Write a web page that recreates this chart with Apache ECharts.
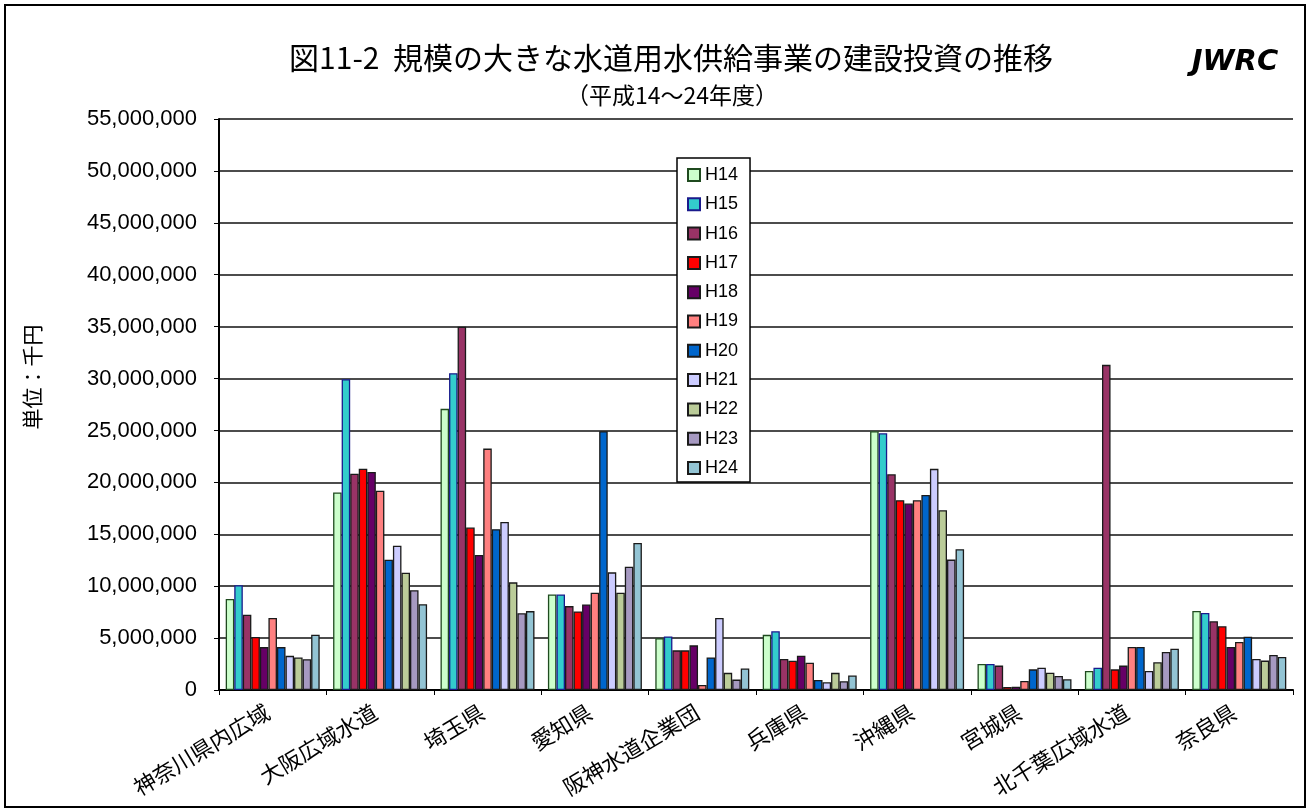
<!DOCTYPE html>
<html>
<head>
<meta charset="utf-8">
<script src="https://cdn.jsdelivr.net/npm/echarts@6/dist/echarts.min.js"></script>
<style>
html,body{margin:0;padding:0;background:#fff;}
#chart{width:1311px;height:812px;}
</style>
</head>
<body>
<div id="chart"></div>
<script>
const categories = ['神奈川県内広域','大阪広域水道','埼玉県','愛知県','阪神水道企業団','兵庫県','沖縄県','宮城県','北千葉広域水道','奈良県'];
const seriesNames = ['H14','H15','H16','H17','H18','H19','H20','H21','H22','H23','H24'];
const yTicks = [0,5000000,10000000,15000000,20000000,25000000,30000000,35000000,40000000,45000000,50000000,55000000];

const H14 = [8770000,19030000,27080000,9210000,4980000,5310000,24930000,2510000,1830000,7610000];
const H15 = [10100000,29940000,30520000,9210000,5150000,5660000,24730000,2510000,2150000,7420000];
const H16 = [7260000,20840000,35000000,8080000,3820000,2980000,20780000,2350000,31320000,6620000];
const H17 = [5100000,21320000,15650000,7570000,3820000,2820000,18280000,290000,1990000,6140000];
const H18 = [4130000,21000000,13000000,8240000,4300000,3300000,17960000,320000,2350000,4140000];
const H19 = [6940000,19190000,23250000,9370000,490000,2620000,18280000,870000,4140000,4630000];
const H20 = [4130000,12550000,15490000,24920000,3140000,970000,18790000,1990000,4140000,5140000];
const H21 = [3290000,13900000,16190000,11330000,6930000,740000,21300000,2150000,1830000,2990000];
const H22 = [3130000,11290000,10370000,9370000,1650000,1650000,17310000,1670000,2670000,2830000];
const H23 = [2970000,9610000,7400000,11880000,1000000,840000,12560000,1350000,3660000,3370000];
const H24 = [5320000,8260000,7600000,14170000,2070000,1390000,13560000,1030000,3980000,3180000];

const seriesData = [H14,H15,H16,H17,H18,H19,H20,H21,H22,H23,H24];
const fills = ['#CCFFCC','#33CCCC','#993366','#FF0000','#660066','#FF8080','#0066CC','#CCCCFF','#BBCC99','#A699C1','#93C4D4'];
const borders = ['#1F4A1F','#1A1A8C','#1a1a1a','#1a1a1a','#1a1a1a','#1a1a1a','#1a1a1a','#1a1a1a','#1a1a1a','#1a1a1a','#1a1a1a'];

const FONT = '"Noto Sans CJK JP", "Noto Sans", sans-serif';
const LAT = '"Liberation Sans", Arial, sans-serif';
const chart = echarts.init(document.getElementById('chart'));

const series = seriesNames.map((n,i)=>({
  name:n,
  type:'bar',
  data:seriesData[i],
  barGap:'0%',
  barCategoryGap:'12.5%',
  itemStyle:{color:fills[i],borderColor:borders[i],borderWidth:1.3},
  emphasis:{disabled:true},
  animation:false
}));

chart.setOption({
  animation:false,
  backgroundColor:'#fff',
  textStyle:{fontFamily:FONT},
  title:[
    {text:'図11-2  規模の大きな水道用水供給事業の建設投資の推移',left:666,top:38,textAlign:'center',
     textStyle:{fontFamily:FONT,fontSize:30,fontWeight:'normal',color:'#000'}},
    {text:'（平成14～24年度）',left:667,top:79,textAlign:'center',
     textStyle:{fontFamily:FONT,fontSize:23,fontWeight:'normal',color:'#000'}},
    {text:'JWRC',left:1230,top:43,textAlign:'center',
     textStyle:{fontFamily:'"DejaVu Sans", sans-serif',fontSize:29,fontWeight:'bold',fontStyle:'italic',color:'#000'}}
  ],
  graphic:[
    {type:'rect',shape:{x:5,y:5,width:1300,height:802},style:{fill:'none',stroke:'#000',lineWidth:2},silent:true,z:-1},
    {type:'text',x:32,y:377,rotation:Math.PI/2,
     style:{text:'単位：千円',font:'21px "Noto Sans CJK JP", sans-serif',fill:'#000',textAlign:'center',textVerticalAlign:'middle'},silent:true}
  ],
  legend:{
    orient:'vertical',
    left:677,top:158,
    data:seriesNames,
    backgroundColor:'#fff',
    borderColor:'#000',borderWidth:1.5,
    padding:[8,12,5,10],
    itemWidth:12,itemHeight:12,itemGap:11.3,
    icon:'rect',
    textStyle:{fontFamily:LAT,fontSize:18,color:'#000'},
    selectedMode:false
  },
  grid:{left:219,right:18,top:119,bottom:122,containLabel:false},
  xAxis:{
    type:'category',
    data:categories,
    axisLine:{lineStyle:{color:'#000',width:2}},
    axisTick:{show:true,alignWithLabel:false,length:5,lineStyle:{color:'#000'}},
    axisLabel:{rotate:31,interval:0,fontFamily:FONT,fontSize:22,color:'#000',margin:17,padding:[0,6,0,0]},
    splitLine:{show:false}
  },
  yAxis:{
    type:'value',
    min:0,max:55000000,interval:5000000,
    axisLine:{show:true,lineStyle:{color:'#000',width:2}},
    axisTick:{show:true,length:5,lineStyle:{color:'#000'}},
    axisLabel:{fontFamily:LAT,fontSize:22,color:'#000',margin:22,
      formatter:v=>yTicks.includes(v)?v.toLocaleString('en-US'):''},
    splitLine:{show:true,lineStyle:{color:'#111',width:1.5}}
  },
  series:series
});
</script>
</body>
</html>
